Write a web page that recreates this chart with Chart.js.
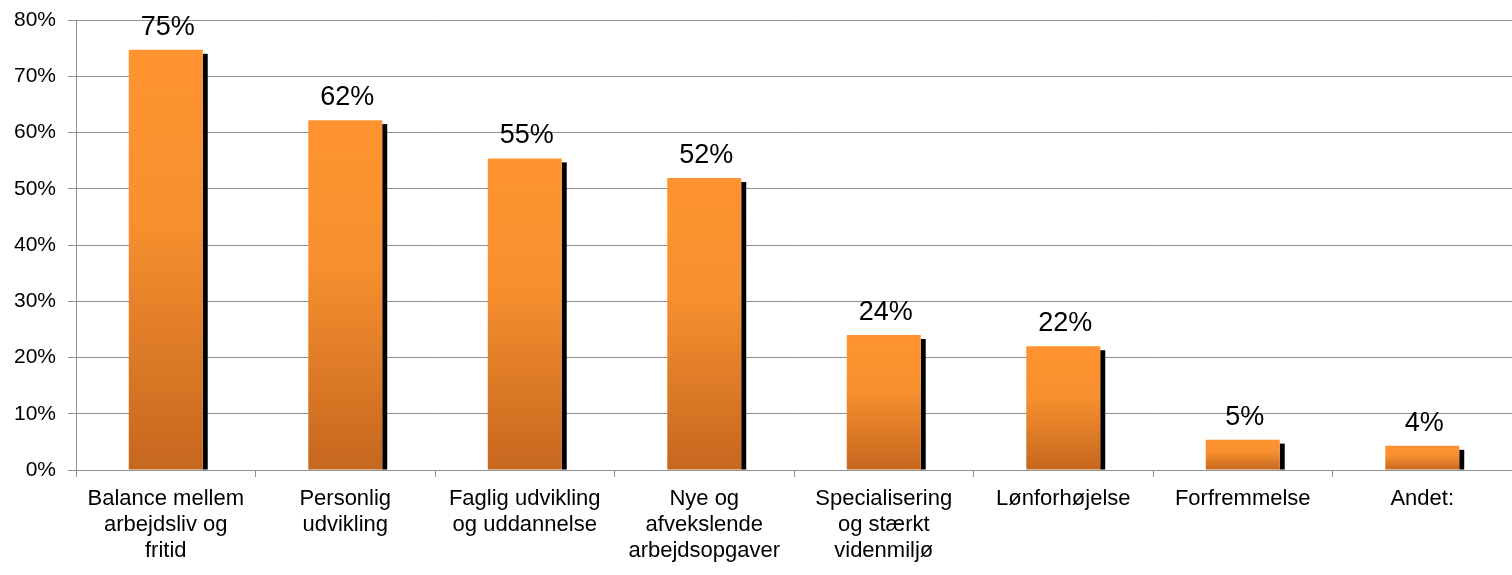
<!DOCTYPE html>
<html>
<head>
<meta charset="utf-8">
<script src="https://cdn.jsdelivr.net/npm/chart.js@4/dist/chart.umd.min.js"></script>
<style>
  html, body { margin: 0; padding: 0; background: #fff; }
  canvas { display: block; }
</style>
</head>
<body>
<canvas id="chart" width="1512" height="575"></canvas>
<script>
// kategorier og værdier (procent)
const categories = [
  ['Balance mellem', 'arbejdsliv og', 'fritid'],
  ['Personlig', 'udvikling'],
  ['Faglig udvikling', 'og uddannelse'],
  ['Nye og', 'afvekslende', 'arbejdsopgaver'],
  ['Specialisering', 'og stærkt', 'videnmiljø'],
  ['Lønforhøjelse'],
  ['Forfremmelse'],
  ['Andet:']
];
const values = [74.7, 62.2, 55.4, 51.9, 24.0, 22.0, 5.4, 4.3];
const yTicks = [0, 10, 20, 30, 40, 50, 60, 70, 80];

const FONT = "'Liberation Sans', Arial, sans-serif";

// skygge til højre for hver søjle
const shadowPlugin = {
  id: 'shadow',
  beforeDatasetsDraw(chart) {
    const ctx = chart.ctx;
    const meta = chart.getDatasetMeta(0);
    ctx.save();
    ctx.fillStyle = '#000';
    meta.data.forEach((bar) => {
      const right = bar.x + bar.width / 2;
      ctx.fillRect(right, bar.y + 4, 5, bar.base - bar.y - 4);
    });
    ctx.restore();
  }
};

// procent-etiketter over søjlerne
const labelPlugin = {
  id: 'valueLabels',
  afterDatasetsDraw(chart) {
    const ctx = chart.ctx;
    const meta = chart.getDatasetMeta(0);
    ctx.save();
    ctx.font = '27px ' + FONT;
    ctx.fillStyle = '#000';
    ctx.textAlign = 'center';
    ctx.textBaseline = 'alphabetic';
    meta.data.forEach((bar, i) => {
      ctx.fillText(Math.round(values[i]) + '%', bar.x + 2, bar.y - 15);
    });
    ctx.restore();
  }
};

function barGradient(context) {
  const chart = context.chart;
  const y = chart.scales.y;
  if (!chart.chartArea || !y) return '#FF9330';
  const top = y.getPixelForValue(context.raw);
  const base = y.getPixelForValue(0);
  const g = chart.ctx.createLinearGradient(0, top, 0, base);
  g.addColorStop(0, '#FF9330');
  g.addColorStop(0.4, '#F8902F');
  g.addColorStop(1, '#C6671F');
  return g;
}

new Chart(document.getElementById('chart').getContext('2d'), {
  type: 'bar',
  data: {
    labels: categories,
    datasets: [{
      data: values,
      backgroundColor: barGradient,
      borderWidth: 0,
      categoryPercentage: 1,
      barPercentage: 0.412
    }]
  },
  options: {
    responsive: false,
    animation: false,
    layout: { padding: { top: 20, right: 0, left: 0, bottom: 0 } },
    plugins: {
      legend: { display: false },
      tooltip: { enabled: false }
    },
    scales: {
      x: {
        grid: {
          drawOnChartArea: false,
          drawTicks: true,
          tickLength: 7,
          color: '#909090',
          offset: true
        },
        border: { color: '#909090' },
        ticks: {
          color: '#000',
          font: { family: FONT, size: 22, lineHeight: 1.18 },
          padding: 9,
          maxRotation: 0,
          autoSkip: false
        },
        afterFit(scale) {
          scale.height = 105;
          scale.paddingLeft = 0;
          scale.paddingRight = 0;
        }
      },
      y: {
        min: 0,
        max: 80,
        afterBuildTicks(scale) {
          scale.ticks = yTicks.map((v) => ({ value: v }));
        },
        grid: { color: '#909090', tickLength: 8 },
        border: { color: '#909090' },
        ticks: {
          color: '#000',
          font: { family: FONT, size: 21 },
          padding: 12,
          callback: (v) => v + '%'
        },
        afterFit(scale) {
          scale.width = 76;
          scale.paddingTop = 0;
          scale.paddingBottom = 0;
        }
      }
    }
  },
  plugins: [shadowPlugin, labelPlugin]
});
</script>
</body>
</html>
